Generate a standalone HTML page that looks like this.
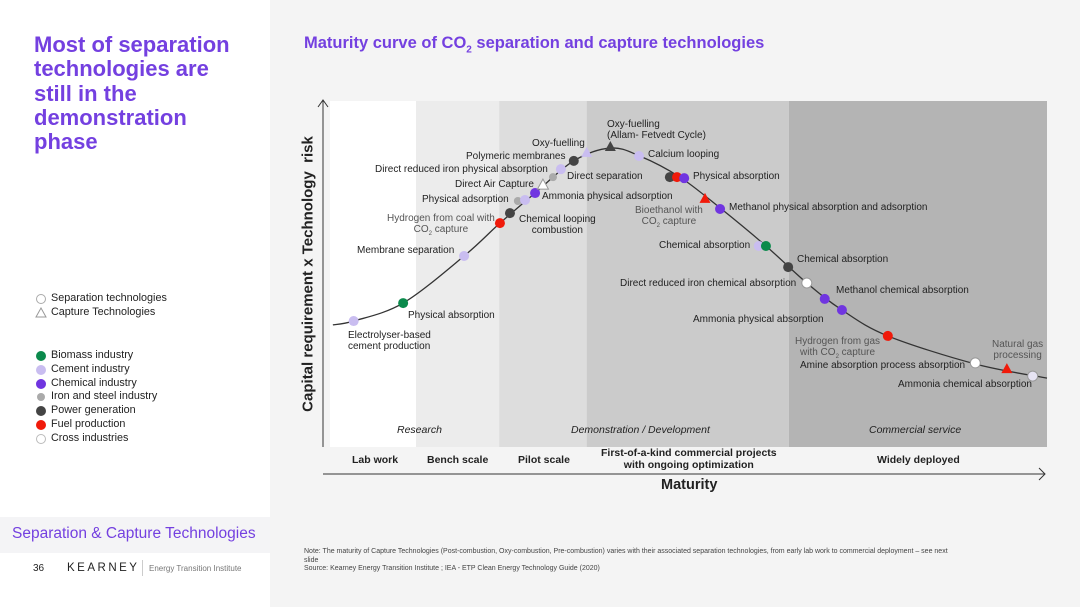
<!DOCTYPE html>
<html><head><meta charset="utf-8"><style>
*{margin:0;padding:0;box-sizing:border-box}
body{width:1080px;height:607px;position:relative;overflow:hidden;background:#f4f4f4;font-family:"Liberation Sans",Arial,sans-serif;color:#222}
.abs{position:absolute;white-space:nowrap}
#left{position:absolute;left:0;top:0;width:270px;height:607px;background:#fff}
.lbl{position:absolute;font-size:10px;color:#222;white-space:nowrap;line-height:11px}
.lg{font-size:10.8px;color:#222;position:absolute;left:51px;white-space:nowrap}
.dot{position:absolute;left:36px;width:10px;height:10px;border-radius:50%}
</style></head><body>
<div id="left">
<div class="abs" style="left:34px;top:33px;font-size:22px;font-weight:bold;color:#7440e0;line-height:24.3px;white-space:normal;width:205px">Most of separation technologies are still in the demonstration phase</div>
<div class="abs" style="left:36px;top:294px;width:10px;height:10px;border:1px solid #aaa;border-radius:50%"></div>
<div class="lg" style="top:292px">Separation technologies</div>
<svg class="abs" style="left:35px;top:307px" width="12" height="11"><polygon points="6,1 11,10 1,10" fill="none" stroke="#999"/></svg>
<div class="lg" style="top:306px">Capture Technologies</div>
<div class="dot" style="top:351px;background:#0b8a4c"></div><div class="lg" style="top:349px">Biomass industry</div>
<div class="dot" style="top:365px;background:#c9bdf0"></div><div class="lg" style="top:363px">Cement industry</div>
<div class="dot" style="top:379px;background:#7035e0"></div><div class="lg" style="top:377px">Chemical industry</div>
<div class="dot" style="top:393px;background:#aaa;width:8px;height:8px;left:37px"></div><div class="lg" style="top:390px">Iron and steel industry</div>
<div class="dot" style="top:406px;background:#444"></div><div class="lg" style="top:404px">Power generation</div>
<div class="dot" style="top:420px;background:#f01a0a"></div><div class="lg" style="top:418px">Fuel production</div>
<div class="dot" style="top:434px;background:#fff;border:1px solid #bbb"></div><div class="lg" style="top:432px">Cross industries</div>
<div class="abs" style="left:0;top:517px;width:270px;height:36px;background:#f4f4f6"></div>
<div class="abs" style="left:12px;top:525px;font-size:15.5px;color:#7440e0">Separation &amp; Capture Technologies</div>
<div class="abs" style="left:33px;top:563px;font-size:10px">36</div>
<div class="abs" style="left:67px;top:562px;font-size:11.5px;letter-spacing:2.5px">KEARNEY</div>
<div class="abs" style="left:142px;top:560px;width:1px;height:16px;background:#ccc"></div>
<div class="abs" style="left:149px;top:564px;font-size:8px;color:#777">Energy Transition Institute</div>
</div>
<div class="abs" style="left:304px;top:34px;font-size:16.5px;font-weight:bold;color:#7440e0">Maturity curve of CO<sub style="font-size:10px">2</sub> separation and capture technologies</div>

<svg id="chart" class="abs" style="left:0;top:0" width="1080" height="607"></svg>

<div class="abs" style="left:308px;top:274px;transform:translate(-50%,-50%) rotate(-90deg);font-size:15px;font-weight:bold">Capital requirement x Technology &nbsp;risk</div>
<div class="abs" style="left:661px;top:477px;font-size:14.5px;font-weight:bold">Maturity</div>
<div class="abs" style="left:397px;top:424px;font-size:10.5px;font-style:italic">Research</div>
<div class="abs" style="left:571px;top:424px;font-size:10.5px;font-style:italic">Demonstration / Development</div>
<div class="abs" style="left:869px;top:424px;font-size:10.5px;font-style:italic">Commercial service</div>
<div class="abs" style="left:352px;top:454px;font-size:10.5px;font-weight:bold">Lab work</div>
<div class="abs" style="left:427px;top:454px;font-size:10.5px;font-weight:bold">Bench scale</div>
<div class="abs" style="left:518px;top:454px;font-size:10.5px;font-weight:bold">Pilot scale</div>
<div class="abs" style="left:601px;top:447px;font-size:10.5px;font-weight:bold;text-align:center;line-height:12px">First-of-a-kind commercial projects<br>with ongoing optimization</div>
<div class="abs" style="left:877px;top:454px;font-size:10.5px;font-weight:bold">Widely deployed</div>
<div class="abs" style="left:304px;top:548px;font-size:7px;color:#444;line-height:8.5px">Note: The maturity of Capture Technologies (Post-combustion, Oxy-combustion, Pre-combustion) varies with their associated separation technologies, from early lab work to commercial deployment – see next<br>slide<br>Source: Kearney Energy Transition Institute ; IEA - ETP Clean Energy Technology Guide (2020)</div>

<div>
<div class="lbl" style="left:348px;top:330px">Electrolyser-based<br>cement production</div>
<div class="lbl" style="left:408px;top:310px">Physical absorption</div>
<div class="lbl" style="left:357px;top:245px">Membrane separation</div>
<div class="lbl" style="left:387px;top:213px;color:#555;text-align:center">Hydrogen from coal with<br>CO<sub style="font-size:6px">2</sub> capture</div>
<div class="lbl" style="left:519px;top:214px;text-align:center">Chemical looping<br>combustion</div>
<div class="lbl" style="left:422px;top:194px">Physical adsorption</div>
<div class="lbl" style="left:542px;top:191px">Ammonia physical adsorption</div>
<div class="lbl" style="left:455px;top:179px">Direct Air Capture</div>
<div class="lbl" style="left:375px;top:164px">Direct reduced iron physical absorption</div>
<div class="lbl" style="left:567px;top:171px">Direct separation</div>
<div class="lbl" style="left:466px;top:151px">Polymeric membranes</div>
<div class="lbl" style="left:532px;top:138px">Oxy-fuelling</div>
<div class="lbl" style="left:607px;top:119px">Oxy-fuelling<br>(Allam- Fetvedt Cycle)</div>
<div class="lbl" style="left:648px;top:149px">Calcium looping</div>
<div class="lbl" style="left:693px;top:171px">Physical absorption</div>
<div class="lbl" style="left:635px;top:205px;color:#555;text-align:center">Bioethanol with<br>CO<sub style="font-size:6px">2</sub> capture</div>
<div class="lbl" style="left:729px;top:202px">Methanol physical absorption and adsorption</div>
<div class="lbl" style="left:659px;top:240px">Chemical absorption</div>
<div class="lbl" style="left:797px;top:254px">Chemical absorption</div>
<div class="lbl" style="left:620px;top:278px">Direct reduced iron chemical absorption</div>
<div class="lbl" style="left:836px;top:285px">Methanol chemical absorption</div>
<div class="lbl" style="left:693px;top:314px">Ammonia physical absorption</div>
<div class="lbl" style="left:795px;top:336px;color:#555;text-align:center">Hydrogen from gas<br>with CO<sub style="font-size:6px">2</sub> capture</div>
<div class="lbl" style="left:800px;top:360px">Amine absorption process absorption</div>
<div class="lbl" style="left:992px;top:339px;color:#555;text-align:center">Natural gas<br>processing</div>
<div class="lbl" style="left:898px;top:379px">Ammonia chemical absorption</div>
</div>

<script>
// Curve (maturity 0-100, risk 0-100)
const curveX = [0.4, 3.3, 10.2, 18.7, 23.7, 28.6, 34.0, 39.1, 43.2, 48.8, 54.4, 60.8, 66.5, 71.4, 77.8, 90.0, 100];
const curveY = [35.3, 36.4, 41.6, 55.2, 64.7, 73.4, 82.7, 86.4, 84.1, 78.0, 69.1, 58.1, 47.4, 39.6, 32.1, 24.0, 19.9];
// Technology markers
const markerX = [3.3, 10.2, 18.7, 23.7, 25.1, 26.2, 27.2, 28.6, 29.7, 31.1, 32.2, 34.0, 35.8, 39.1, 43.1, 47.4, 48.4, 49.4, 52.3, 54.4, 59.8, 60.8, 63.9, 66.5, 69.0, 71.4, 77.8, 90.0, 94.4, 98.0];
const markerY = [36.4, 41.6, 55.2, 64.7, 67.6, 71.1, 71.4, 73.4, 75.7, 78.0, 80.3, 82.7, 85.0, 86.7, 84.1, 78.0, 78.0, 77.7, 71.7, 68.8, 58.1, 58.1, 52.0, 47.4, 42.8, 39.6, 32.1, 24.3, 22.5, 20.5];
const markerIndustry = ["cement","biomass","cement","fuel","power","iron","cement","chemical","cross","iron","cement","power","cement","power","cement","power","fuel","chemical","fuel","chemical","cement","biomass","power","cross","chemical","chemical","fuel","cross","fuel","lavender"];
const markerType = ["sep","sep","sep","sep","sep","sep","sep","sep","cap","sep","sep","sep","cap","cap","sep","sep","sep","sep","cap","sep","sep","sep","sep","sep","sep","sep","sep","sep","cap","sep"];
const phaseBounds = [0, 12, 23.6, 35.8, 64.0, 100];
const phaseFill = ["#ffffff","#ececec","#dddddd","#cbcbcb","#b4b4b4"];

const colors = {biomass:"#0b8a4c",cement:"#c9bdf0",chemical:"#7035e0",iron:"#aaaaaa",power:"#444444",fuel:"#f01a0a",cross:"#ffffff",lavender:"#e6e3f3"};
const X0=330,X1=1047,Y0=447,Y1=101;
const sx = v => X0 + v/100*(X1-X0);
const sy = v => Y0 - v/100*(Y0-Y1);
const svg = document.getElementById('chart');
const NS = "http://www.w3.org/2000/svg";
function mk(tag, attrs){const e=document.createElementNS(NS,tag);for(const k in attrs)e.setAttribute(k,attrs[k]);svg.appendChild(e);return e;}

for(let i=0;i<phaseFill.length;i++){
  const r = mk('rect',{x:sx(phaseBounds[i]),y:Y1,width:sx(phaseBounds[i+1])-sx(phaseBounds[i]),height:Y0-Y1,fill:phaseFill[i]});
  
  
}
const ya = mk('path',{d:`M323 447 L323 100 M318 107 L323 100 L328 107`,stroke:'#333','stroke-width':1,fill:'none'});


const xa = mk('path',{d:`M323 474 L1045 474 M1039 468 L1045 474 L1039 480`,stroke:'#333','stroke-width':1,fill:'none'});



const P = curveX.map((x,i)=>[sx(x),sy(curveY[i])]);
let d=`M${P[0][0]} ${P[0][1]}`;
for(let i=0;i<P.length-1;i++){
  const p0=P[Math.max(0,i-1)],p1=P[i],p2=P[i+1],p3=P[Math.min(P.length-1,i+2)];
  const c1=[p1[0]+(p2[0]-p0[0])/6,p1[1]+(p2[1]-p0[1])/6];
  const c2=[p2[0]-(p3[0]-p1[0])/6,p2[1]-(p3[1]-p1[1])/6];
  d+=` C${c1[0]} ${c1[1]} ${c2[0]} ${c2[1]} ${p2[0]} ${p2[1]}`;
}
const curve = mk('path',{d:d,stroke:'#333','stroke-width':1.3,fill:'none'});



for(let i=0;i<markerX.length;i++){
  const cx=sx(markerX[i]), cy=sy(markerY[i]);
  const ind=markerIndustry[i];
  const c=colors[ind];
  const stroke = (ind==='cross'||ind==='lavender')?'#999':'none';
  let m;
  if(markerType[i]==='cap'){
    m = mk('polygon',{points:`${cx},${cy-6} ${cx+5.5},${cy+4} ${cx-5.5},${cy+4}`,fill:c,stroke:stroke});
  } else {
    const r = ind==='iron'?4:5;
    m = mk('circle',{cx:cx,cy:cy,r:r,fill:c,stroke:stroke,'stroke-width':1});
  }
  
  
}
</script>
</body></html>
